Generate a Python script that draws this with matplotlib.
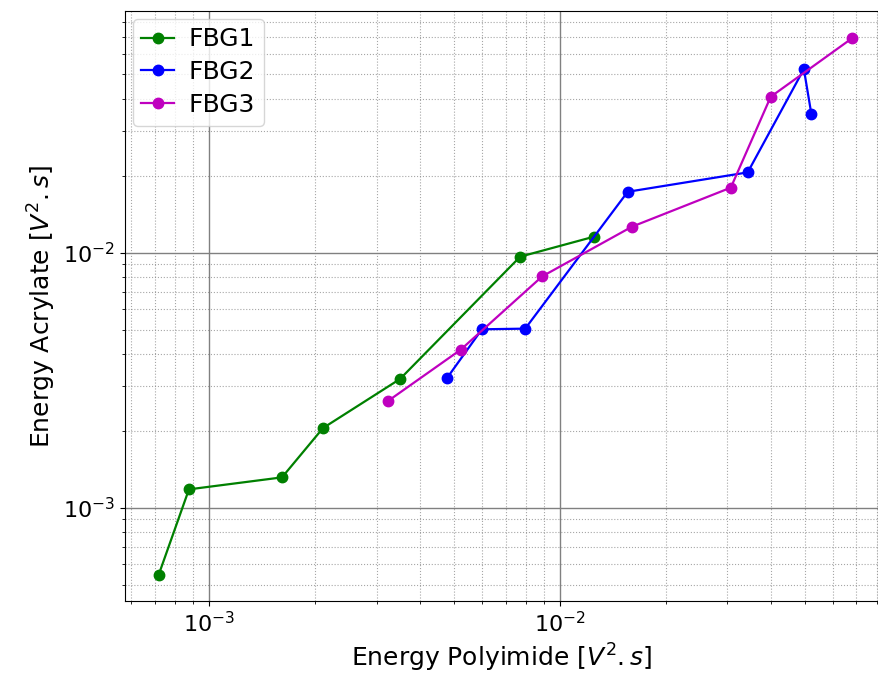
import matplotlib
matplotlib.use("Agg")
import matplotlib.pyplot as plt

fbg1_x = [7.17e-4, 8.75e-4, 1.612e-3, 2.11e-3, 3.50e-3, 7.70e-3, 1.25e-2]
fbg1_y = [5.45e-4, 1.181e-3, 1.316e-3, 2.054e-3, 3.20e-3, 9.65e-3, 1.156e-2]

fbg2_x = [4.77e-3, 5.99e-3, 7.96e-3, 1.56e-2, 3.43e-2, 4.96e-2, 5.21e-2]
fbg2_y = [3.235e-3, 5.01e-3, 5.04e-3, 1.734e-2, 2.066e-2, 5.25e-2, 3.50e-2]

fbg3_x = [3.24e-3, 5.21e-3, 8.90e-3, 1.604e-2, 3.07e-2, 3.99e-2, 6.80e-2]
fbg3_y = [2.628e-3, 4.166e-3, 8.08e-3, 1.265e-2, 1.80e-2, 4.09e-2, 6.93e-2]

labels = ["FBG1", "FBG2", "FBG3"]

fig = plt.figure(figsize=(8.79, 6.75), dpi=100)
ax = fig.add_axes([125/879, 74/675, 753/879, 590/675])
ax.plot(fbg1_x, fbg1_y, 'g-o', lw=1.6, ms=7.5, label=labels[0])
ax.plot(fbg2_x, fbg2_y, 'b-o', lw=1.6, ms=7.5, label=labels[1])
ax.plot(fbg3_x, fbg3_y, 'm-o', lw=1.6, ms=7.5, label=labels[2])
ax.set_xscale('log')
ax.set_yscale('log')
ax.set_xlim(5.75e-4, 0.0807)
ax.set_ylim(4.31e-4, 0.0887)
ax.grid(True, which='major', color='gray', linestyle='-', lw=1)
ax.grid(True, which='minor', color='gray', linestyle=':', lw=0.8, alpha=0.7)
ax.set_xlabel(r'Energy Polyimide [$V^2.s$]', fontsize=18)
ax.set_ylabel(r'Energy Acrylate [$V^2.s$]', fontsize=18)
ax.tick_params(axis='both', which='major', labelsize=16)
ax.legend(loc='upper left', fontsize=18, handlelength=1.3, borderaxespad=0.3,
          handletextpad=0.6, borderpad=0.35, labelspacing=0.35)
fig.savefig('out.png', dpi=100)
